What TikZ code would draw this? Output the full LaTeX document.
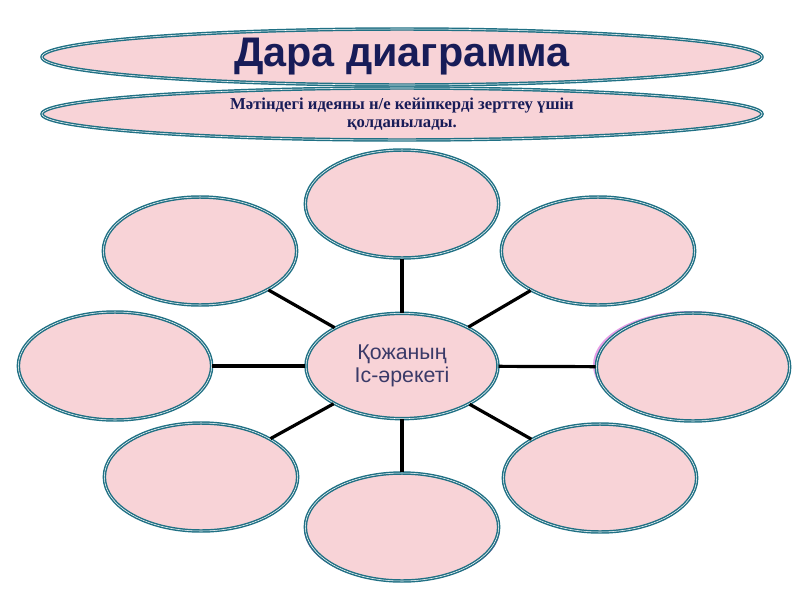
\documentclass[tikz,border=0pt]{standalone}
\usepackage{fontspec}
\setmainfont{Liberation Serif}
\setsansfont{Liberation Sans}
\usetikzlibrary{shapes.geometric}

\definecolor{petalpink}{RGB}{248,211,215}
\definecolor{rimteal}{RGB}{32,112,132}
\definecolor{titleink}{RGB}{24,28,88}
\definecolor{hubink}{RGB}{58,58,104}
\definecolor{glowmag}{RGB}{200,40,200}
\definecolor{glowpur}{RGB}{110,20,130}

\tikzset{
    petal/.style={ellipse, fill=petalpink, draw=rimteal, line width=1.1pt, double=white, double distance=0.4pt, inner sep=0pt, minimum width=145pt, minimum height=81pt},
    banner/.style={petal, minimum width=540pt, minimum height=42pt},
    spoke/.style={line width=2.4pt, black},
}

\begin{document}
\begin{tikzpicture}[x=0.75pt,y=0.75pt,yscale=-1,xscale=1]
        \useasboundingbox (0,0) rectangle (800,600);

        % Banner Nodes
        \node [banner, text=titleink, font=\sffamily\bfseries\fontsize{31}{36}\selectfont] (title) at (402,57) {Дара диаграмма};
        \node [banner, minimum height=39pt, text=titleink, align=center, font=\bfseries\fontsize{12.5}{13}\selectfont] (subtitle) at (402,114) {Мәтіндегі идеяны н/е кейіпкерді зерттеу үшін\\қолданылады.};

        %Shape: Ellipse glow behind right and bottom
        \fill [glowmag, opacity=0.45] (691,365) ellipse (98 and 54);
        \fill [glowpur, opacity=0.6] (402,529) ellipse (98 and 53);

        % Outer Nodes
        \node [petal] (top) at (402,204) {};
        \node [petal] (upleft) at (200,251) {};
        \node [petal] (upright) at (598,251) {};
        \node [petal] (left) at (115,366) {};
        \node [petal] (right) at (693,367) {};
        \node [petal] (lowleft) at (201,477) {};
        \node [petal] (lowright) at (600,478) {};
        \node [petal] (bottom) at (402,527) {};

        % Hub Node
        \node [petal, minimum width=144pt, minimum height=79pt, align=center, text=hubink, font=\sffamily\fontsize{16}{17}\selectfont] (hub) at (402,366) {Қожаның\\Іс-әрекеті};

        % Spokes
        \draw [spoke] (hub) -- (top);
        \draw [spoke] (hub) -- (upleft);
        \draw [spoke] (hub) -- (upright);
        \draw [spoke] (hub) -- (left);
        \draw [spoke] (hub) -- (right);
        \draw [spoke] (hub) -- (lowleft);
        \draw [spoke] (hub) -- (lowright);
        \draw [spoke] (hub) -- (bottom);

    \end{tikzpicture}
\end{document}
